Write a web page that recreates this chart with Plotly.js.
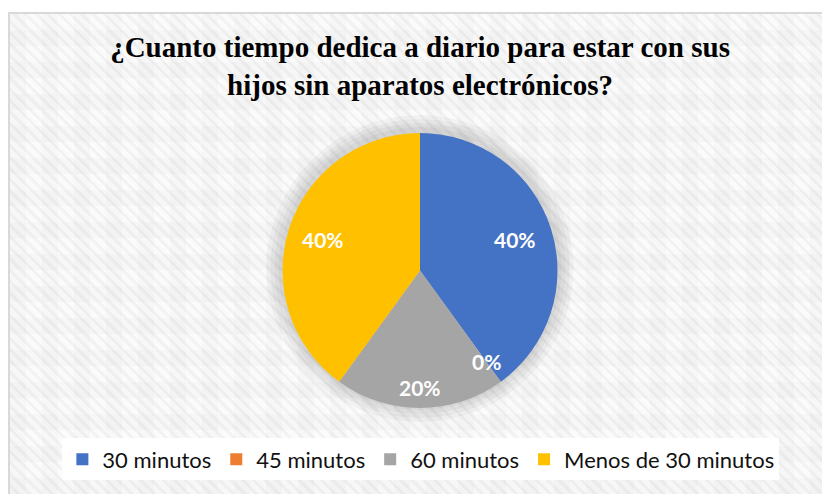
<!DOCTYPE html>
<html>
<head>
<meta charset="utf-8">
<script src="https://cdn.plot.ly/plotly-3.0.1.min.js"></script>
<style>
  html, body { margin:0; padding:0; background:#fff; }
  #wrap { position:relative; width:822px; height:494px; overflow:hidden; }
  #frame { position:absolute; left:8px; top:12px; width:830px; height:500px;
    border:2px solid #d9d9d9; box-sizing:border-box;
    background-color:#fbfbfb;
    background-image:
      repeating-linear-gradient(45deg, rgba(0,0,0,0.035) 0px, rgba(0,0,0,0.035) 3px, rgba(255,255,255,0) 3px, rgba(255,255,255,0) 8px),
      linear-gradient(90deg, rgba(0,0,0,0.015) 50%, rgba(0,0,0,0) 50%),
      linear-gradient(0deg, rgba(0,0,0,0.015) 50%, rgba(0,0,0,0) 50%);
    background-size: auto, 32px 32px, 32px 32px; }
  #chart { position:absolute; left:0; top:0; width:822px; height:494px; }
</style>
</head>
<body>
<div id="wrap">
  <div id="frame"></div>
  <div id="chart"></div>
</div>
<script>
const categories = ["30 minutos", "45 minutos", "60 minutos", "Menos de 30 minutos"];
const values = [40, 0, 20, 40];
const colors = ["#4472c4", "#ed7d31", "#a5a5a5", "#ffc000"];
const labelRadius = [0.73, 0.82, 0.85, 0.74];

const W = 822, H = 494;
const cxPx = 420, cyPx = 270.5, R = 137.5;
const dom = {
  x: [(cxPx - R) / W, (cxPx + R) / W],
  y: [(H - cyPx - R) / H, (H - cyPx + R) / H]
};

const total = values.reduce((a, b) => a + b, 0);
let cum = 0;
const annotations = [];
values.forEach((v, i) => {
  const mid = (cum + v / 2) / total * 2 * Math.PI;
  cum += v;
  const r = R * labelRadius[i];
  const px = cxPx + r * Math.sin(mid);
  const py = cyPx - r * Math.cos(mid);
  annotations.push({
    x: px / W, y: (H - py) / H, xref: "paper", yref: "paper",
    text: "<b>" + Math.round(v / total * 100) + "%</b>", showarrow: false,
    font: { family: "Lato, 'Open Sans', sans-serif", size: 21, color: "#ffffff" },
    xanchor: "center", yanchor: "middle"
  });
});

const shapes = [];
[16, 12, 8, 4].forEach(e => {
  shapes.push({
    type: "circle", xref: "paper", yref: "paper", layer: "below",
    x0: (cxPx - R - e) / W, x1: (cxPx + R + e) / W,
    y0: (H - cyPx - R - e + 2) / H, y1: (H - cyPx + R + e + 2) / H,
    fillcolor: "rgba(0,0,0,0.035)", line: { width: 0 }
  });
});

const trace = {
  type: "pie",
  labels: categories,
  values: values,
  marker: { colors: colors, line: { width: 0 } },
  sort: false,
  direction: "clockwise",
  rotation: 0,
  textinfo: "none",
  hoverinfo: "label+percent",
  domain: dom
};

const layout = {
  width: W, height: H,
  margin: { l: 0, r: 0, t: 0, b: 0 },
  paper_bgcolor: "rgba(0,0,0,0)",
  plot_bgcolor: "rgba(0,0,0,0)",
  title: {
    text: "¿Cuanto tiempo dedica a diario para estar con sus<br>hijos sin aparatos electrónicos?",
    font: { family: "'Liberation Serif', 'Times New Roman', serif", size: 29, color: "#000000", weight: "bold" },
    x: 0.511, xanchor: "center", y: 0.884, yanchor: "top"
  },
  showlegend: true,
  legend: {
    orientation: "h", x: 0.512, xanchor: "center", y: 0.07, yanchor: "middle",
    bgcolor: "#ffffff",
    font: { family: "Lato, 'Open Sans', sans-serif", size: 22, color: "#111111" },
    traceorder: "normal", itemwidth: 30
  },
  shapes: shapes,
  annotations: annotations
};

Plotly.newPlot("chart", [trace], layout, { displayModeBar: false, staticPlot: true });
</script>
</body>
</html>
